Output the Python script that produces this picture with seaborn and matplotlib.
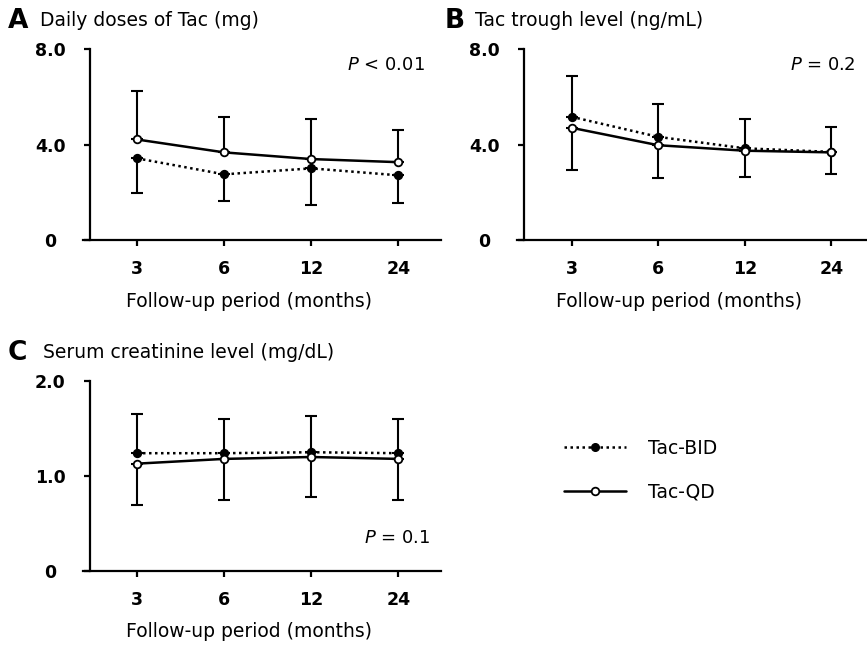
import matplotlib.pyplot as plt
import numpy as np
import seaborn as sns
from matplotlib.lines import Line2D

# follow-up months (categorical x axis)
months = ["3", "6", "12", "24"]

# A: daily doses of Tac (mg); BID bars drawn downward, QD bars upward
dose_bid_mean = [3.42, 2.75, 3.00, 2.71]
dose_bid_sd = [1.44, 1.11, 1.54, 1.15]
dose_qd_mean = [4.21, 3.67, 3.39, 3.26]
dose_qd_sd = [2.04, 1.49, 1.66, 1.36]

# B: Tac trough level (ng/mL); BID bars upward, QD bars downward
trough_bid_mean = [5.16, 4.32, 3.84, 3.69]
trough_bid_sd = [1.70, 1.37, 1.22, 1.05]
trough_qd_mean = [4.70, 3.97, 3.74, 3.67]
trough_qd_sd = [1.77, 1.39, 1.12, 0.92]

# C: serum creatinine level (mg/dL); BID bars upward, QD bars downward
scr_bid_mean = [1.24, 1.24, 1.25, 1.24]
scr_bid_sd = [0.41, 0.36, 0.38, 0.36]
scr_qd_mean = [1.13, 1.18, 1.20, 1.18]
scr_qd_sd = [0.44, 0.43, 0.42, 0.43]

tac_ticks = [0, 4, 8]
tac_ticklabels = ["0", "4.0", "8.0"]
scr_ticks = [0, 1, 2]
scr_ticklabels = ["0", "1.0", "2.0"]

sns.set_style("ticks")
plt.rcParams["font.family"] = ["DejaVu Sans"]
plt.rcParams["mathtext.fontset"] = "dejavusans"
for key in ["text.color", "axes.edgecolor", "axes.labelcolor", "xtick.color", "ytick.color"]:
    plt.rcParams[key] = "black"

W, H = 867, 647
fig = plt.figure(figsize=(W / 100, H / 100), dpi=100)

TXT = 13.5


def px_axes(left, right, top, bottom):
    return fig.add_axes([left / W, 1 - bottom / H, (right - left) / W, (bottom - top) / H])


def draw_panel(ax, bid_mean, bid_sd, bid_dir, qd_mean, qd_sd, qd_dir,
               ymax, yticks, yticklabels, spine_x, xlim):
    pos = np.arange(len(months))
    zeros = np.zeros(len(months))
    for mean, sd, d in [(bid_mean, bid_sd, bid_dir), (qd_mean, qd_sd, qd_dir)]:
        yerr = [zeros, sd] if d == "up" else [sd, zeros]
        ax.errorbar(pos, mean, yerr=yerr, fmt="none", ecolor="black",
                    elinewidth=1.5, capsize=4, capthick=1.5, zorder=1)
    sns.pointplot(x=months, y=bid_mean, order=months, color="black",
                  markers="o", linestyles=(0, (1, 1.4)), errorbar=None, ax=ax,
                  linewidth=1.8, markersize=5.5, markeredgewidth=1.2,
                  markerfacecolor="black")
    sns.pointplot(x=months, y=qd_mean, order=months, color="black",
                  markers="o", linestyles="-", errorbar=None, ax=ax,
                  linewidth=1.8, markersize=5.5, markeredgewidth=1.3,
                  markerfacecolor="white")
    for ln in ax.lines:
        ln.set_zorder(3)
    ax.set_xlim(*xlim)
    ax.set_ylim(0, ymax)
    ax.set_yticks(yticks)
    ax.set_yticklabels(yticklabels)
    ax.spines["left"].set_position(("data", spine_x))
    ax.spines["top"].set_visible(False)
    ax.spines["right"].set_visible(False)
    for s in ["left", "bottom"]:
        ax.spines[s].set_linewidth(1.6)
    ax.tick_params(axis="both", length=4.5, width=1.6, labelsize=12.5)
    ax.tick_params(axis="y", pad=24)
    ax.tick_params(axis="x", pad=10)
    for lab in ax.get_yticklabels():
        lab.set_ha("center")
        lab.set_fontweight("bold")
    for lab in ax.get_xticklabels():
        lab.set_fontweight("bold")
    ax.set_ylabel("")
    ax.set_xlabel("Follow-up period (months)", fontsize=TXT)
    ax.xaxis.set_label_coords(0.465, -0.27)
    ax.grid(False)
    ax.set_facecolor("none")


# Panel A
axA = px_axes(83, 441, 49, 240)
draw_panel(axA, dose_bid_mean, dose_bid_sd, "down", dose_qd_mean, dose_qd_sd, "up",
           8, tac_ticks, tac_ticklabels, -0.54, (-0.62, 3.49))
axA.text(0.955, 0.916, r"$P$ < 0.01", transform=axA.transAxes, ha="right",
         va="center", fontsize=13)

# Panel B
axB = px_axes(517, 866, 49, 240)
draw_panel(axB, trough_bid_mean, trough_bid_sd, "up", trough_qd_mean, trough_qd_sd, "down",
           8, tac_ticks, tac_ticklabels, -0.55, (-0.63, 3.40))
axB.text(0.968, 0.916, r"$P$ = 0.2", transform=axB.transAxes, ha="right",
         va="center", fontsize=13)

# Panel C
axC = px_axes(83, 441, 381, 571)
draw_panel(axC, scr_bid_mean, scr_bid_sd, "up", scr_qd_mean, scr_qd_sd, "down",
           2, scr_ticks, scr_ticklabels, -0.54, (-0.62, 3.49))
axC.text(0.969, 0.172, r"$P$ = 0.1", transform=axC.transAxes, ha="right",
         va="center", fontsize=13)

# panel letters and titles
for letter, lx, tx, ty, title in [
    ("A", 8, 40, 21, "Daily doses of Tac (mg)"),
    ("B", 445, 475, 21, "Tac trough level (ng/mL)"),
    ("C", 8, 43, 353, "Serum creatinine level (mg/dL)"),
]:
    fig.text(lx / W, 1 - ty / H, letter, fontsize=19, fontweight="bold",
             ha="left", va="center")
    fig.text(tx / W, 1 - ty / H, title, fontsize=TXT, ha="left", va="center")

# legend
handles = [
    Line2D([], [], color="black", linestyle=(0, (1, 1.4)), linewidth=1.8,
           marker="o", markersize=5.5, markerfacecolor="black"),
    Line2D([], [], color="black", linestyle="-", linewidth=1.8,
           marker="o", markersize=5.5, markerfacecolor="white", markeredgewidth=1.3),
]
fig.legend(handles, ["Tac-BID", "Tac-QD"], loc="upper left",
           bbox_to_anchor=(564 / W, 1 - 439 / H), frameon=False, fontsize=TXT,
           handlelength=3.3, handletextpad=1.2, labelspacing=1.3,
           borderaxespad=0, borderpad=0, numpoints=1)

fig.savefig("out.png", dpi=100)
